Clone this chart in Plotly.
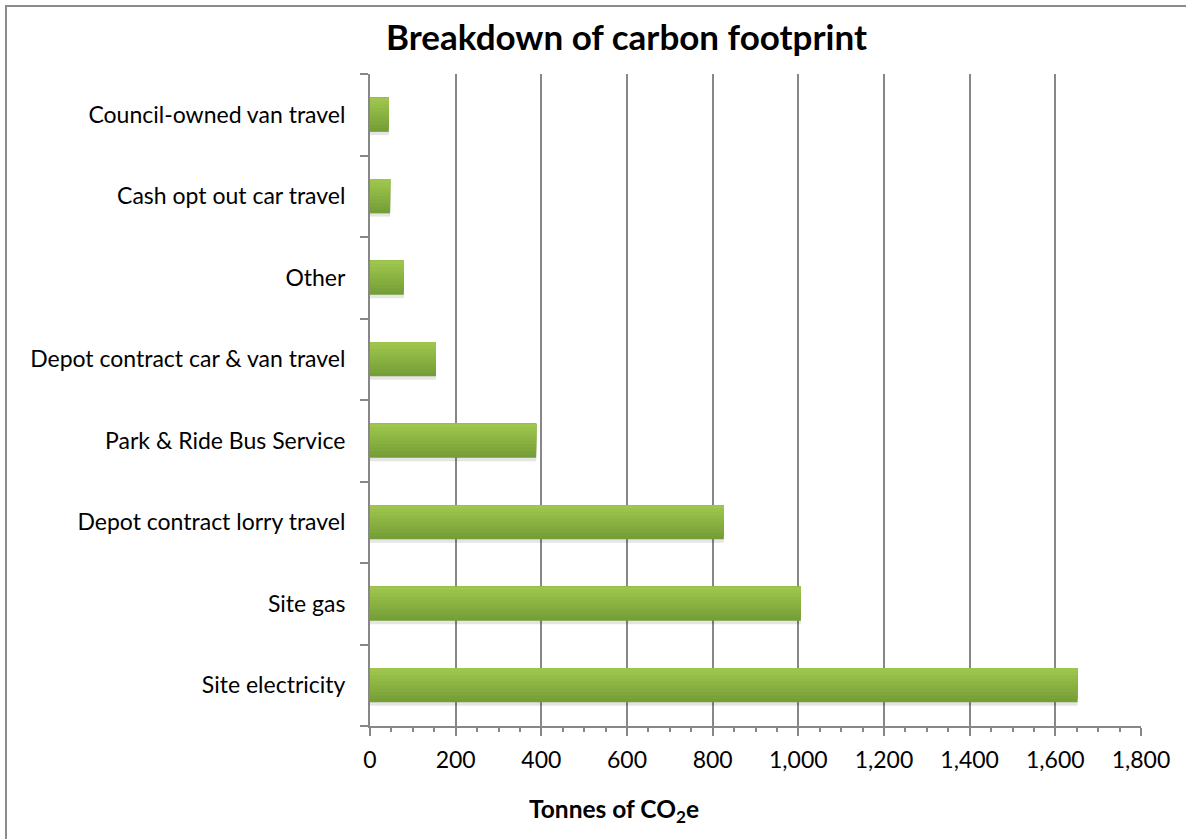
import plotly.graph_objects as go

categories = [
    "Site electricity",
    "Site gas",
    "Depot contract lorry travel",
    "Park & Ride Bus Service",
    "Depot contract car & van travel",
    "Other",
    "Cash opt out car travel",
    "Council-owned van travel",
]
values = [1652, 1006, 826, 388, 154, 79, 47, 44]
x_ticks = [0, 200, 400, 600, 800, 1000, 1200, 1400, 1600, 1800]
x_tick_labels = ["0", "200", "400", "600", "800", "1,000", "1,200", "1,400", "1,600", "1,800"]

FONT = "Lato"
BAR_W = 0.42
N_STEPS = 10
dark = (118, 158, 56)
light = (158, 198, 76)

fig = go.Figure()

# soft shadow under bars
fig.add_trace(go.Bar(
    y=categories, x=values, orientation="h",
    width=BAR_W, offset=-BAR_W / 2 - 0.04,
    marker=dict(color="rgba(0,0,0,0.10)", line=dict(width=0)),
    hoverinfo="skip", showlegend=False,
))

# vertical gradient: dark at the bottom, light at the top
for k in range(N_STEPS):
    t = k / (N_STEPS - 1)
    c = tuple(round(dark[i] + (light[i] - dark[i]) * t) for i in range(3))
    step = BAR_W / N_STEPS
    fig.add_trace(go.Bar(
        y=categories, x=values, orientation="h",
        width=BAR_W - k * step, offset=-BAR_W / 2 + k * step,
        marker=dict(color="rgb(%d,%d,%d)" % c, line=dict(width=0)),
        hoverinfo="x+y" if k == 0 else "skip", showlegend=False,
    ))

fig.update_layout(
    width=1186, height=839,
    margin=dict(l=370, r=45, t=74, b=113),
    paper_bgcolor="white", plot_bgcolor="white",
    barmode="overlay",
    font=dict(family=FONT, color="black", size=23),
    xaxis=dict(
        range=[0, 1800], tickvals=x_ticks, ticktext=x_tick_labels,
        showgrid=True, gridcolor="#878787", gridwidth=2,
        showline=True, linecolor="#878787", linewidth=2,
        ticks="outside", ticklen=8, tickwidth=2, tickcolor="#878787",
        minor=dict(dtick=50, tick0=0, ticks="outside", ticklen=4, tickwidth=1.5,
                   tickcolor="#878787", showgrid=False),
        tickfont=dict(size=23), ticklabelstandoff=4, zeroline=False, fixedrange=True,
    ),
    yaxis=dict(
        type="category", categoryorder="array", categoryarray=categories,
        showgrid=False, showline=True, linecolor="#878787", linewidth=2,
        ticks="outside", tickson="boundaries", ticklen=8, tickwidth=2, tickcolor="#878787",
        tickfont=dict(size=23), ticklabelstandoff=18, fixedrange=True,
    ),
    shapes=[dict(
        type="rect", xref="paper", yref="paper",
        x0=(6 - 370) / 771, x1=(1200 - 370) / 771,
        y0=-(850 - 726) / 652, y1=1 + (74 - 6) / 652,
        line=dict(color="#8c8c8c", width=2), fillcolor="rgba(0,0,0,0)", layer="below",
    )],
    annotations=[
        dict(text="<b>Breakdown of carbon footprint</b>", xref="paper", yref="paper",
             x=(626 - 370) / 771, y=1 + (74 - 36) / 652, xanchor="center", yanchor="middle",
             showarrow=False, font=dict(size=35, family=FONT)),
        dict(text="<b>Tonnes of CO<sub>2</sub>e</b>", xref="paper", yref="paper",
             x=(614 - 370) / 771, y=-(810 - 726) / 652, xanchor="center", yanchor="middle",
             showarrow=False, font=dict(size=24.5, family=FONT)),
    ],
)

fig.write_html("out.html")
